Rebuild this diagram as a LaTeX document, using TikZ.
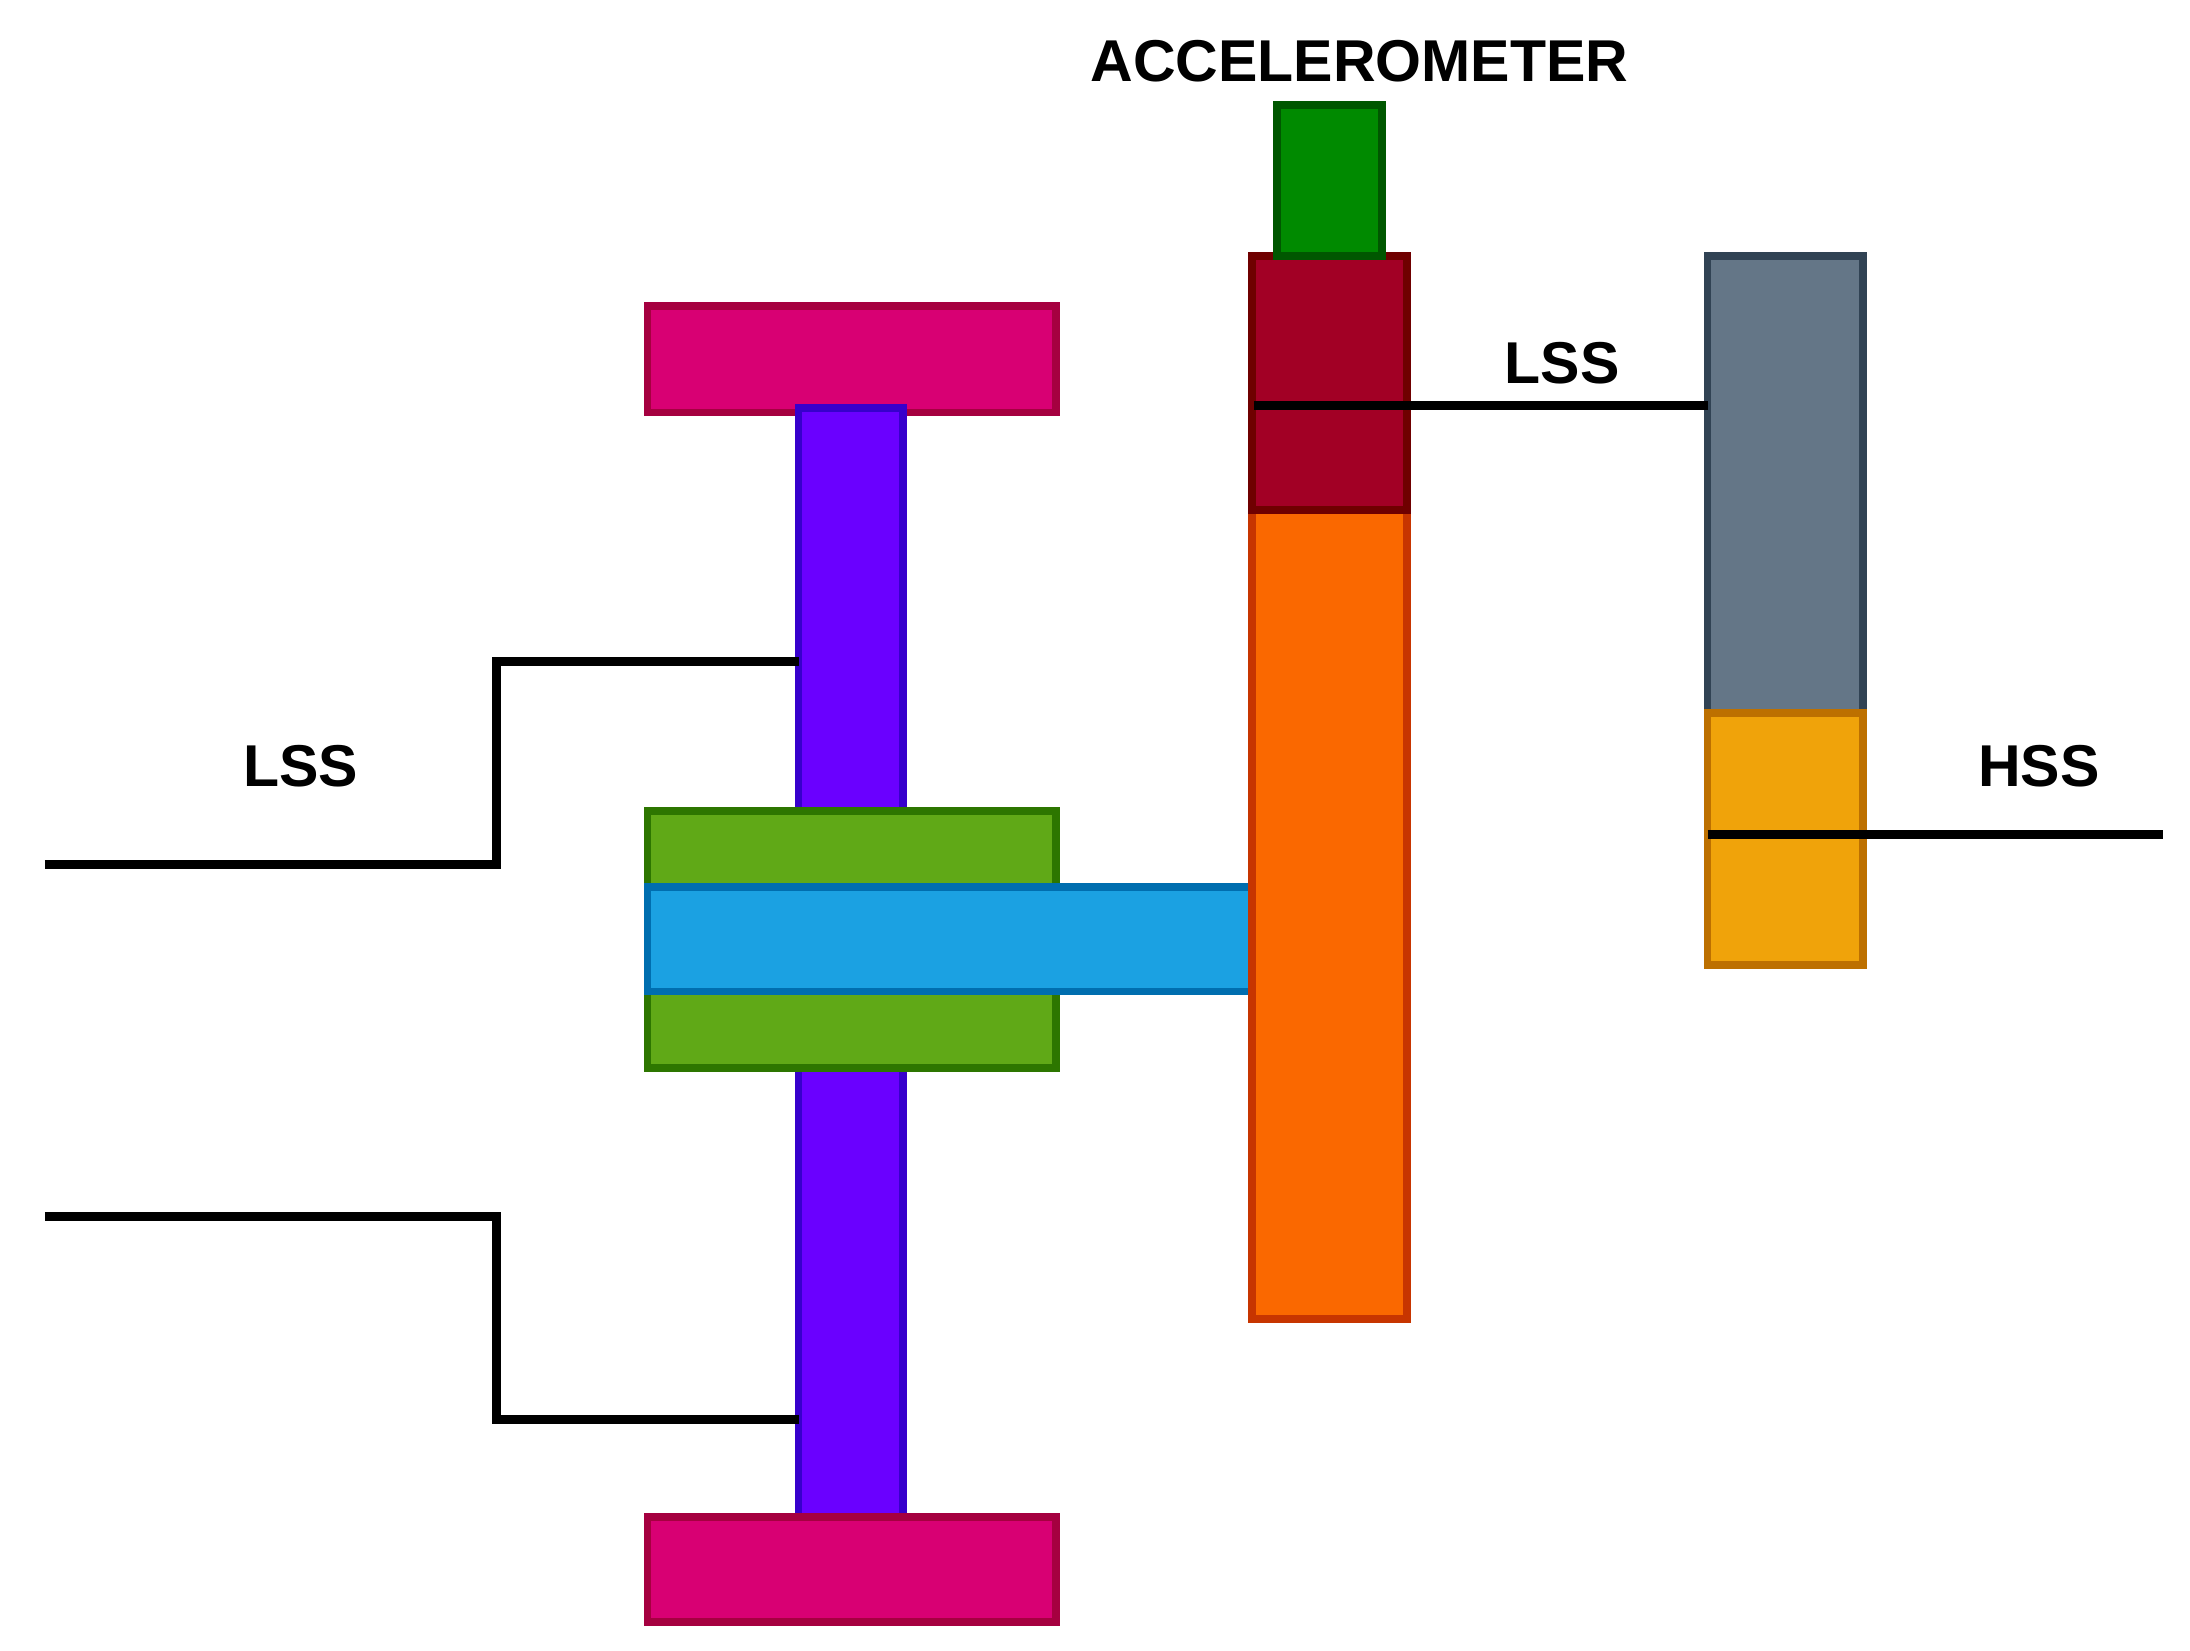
\documentclass[tikz,border=0pt]{standalone}
\usepackage{fontspec}
\setmainfont{Liberation Sans}
\usetikzlibrary{positioning}
\definecolor{pinkf}{HTML}{D80073}\definecolor{pinkd}{HTML}{A50040}
\definecolor{violf}{HTML}{6A00FF}\definecolor{viold}{HTML}{3700CC}
\definecolor{greenf}{HTML}{60A917}\definecolor{greend}{HTML}{2D7600}
\definecolor{bluef}{HTML}{1BA1E2}\definecolor{blued}{HTML}{006EAF}
\definecolor{orangef}{HTML}{FA6800}\definecolor{oranged}{HTML}{C73500}
\definecolor{redf}{HTML}{A20025}\definecolor{redd}{HTML}{6F0000}
\definecolor{accf}{HTML}{008A00}\definecolor{accd}{HTML}{005700}
\definecolor{grayf}{HTML}{647687}\definecolor{grayd}{HTML}{314354}
\definecolor{amberf}{HTML}{F0A30A}\definecolor{amberd}{HTML}{BD7000}
\newcommand{\gbox}[4]{\draw[part, fill=#1f, draw=#1d] (#2,#3) rectangle #4;}
\tikzset{part/.style={line width=1.6pt},
	shaft/.style={line width=1.8pt, black},
	lbl/.style={font=\fontsize{12}{14}\selectfont\bfseries}}

\begin{document}
\begin{tikzpicture}[x=0.01cm, y=-0.01cm]
	\useasboundingbox (0,0) rectangle (1566,1180);

	\gbox{pink}{463}{219}{(755,295)}
	\gbox{viol}{571}{292}{(646,580)}
	\gbox{viol}{571}{762}{(646,1085)}
	\gbox{pink}{463}{1085}{(755,1160)}
	\gbox{green}{463}{580}{(755,764)}
	\gbox{blue}{463}{634}{(896,709)}
	\gbox{orange}{895}{365}{(1006,943)}
	\gbox{red}{895}{183}{(1006,365)}
	\gbox{acc}{913}{75}{(988,183)}
	\gbox{gray}{1221}{183}{(1332,510)}
	\gbox{amber}{1221}{510}{(1332,690)}

	\draw[shaft] (32,618) -- (355,618) -- (355,473) -- (571,473);
	\draw[shaft] (32,870) -- (355,870) -- (355,1015) -- (571,1015);
	\draw[shaft] (897,290) -- (1221,290);
	\draw[shaft] (1221,597) -- (1547,597);

	\node[lbl] (lssa) at (215,548) {LSS};
	\node[lbl] (lssb) at (1117,260) {LSS};
	\node[lbl] (hss) at (1458,548) {HSS};
	\node[lbl] (acc) at (972,44) {ACCELEROMETER};
\end{tikzpicture}
\end{document}
